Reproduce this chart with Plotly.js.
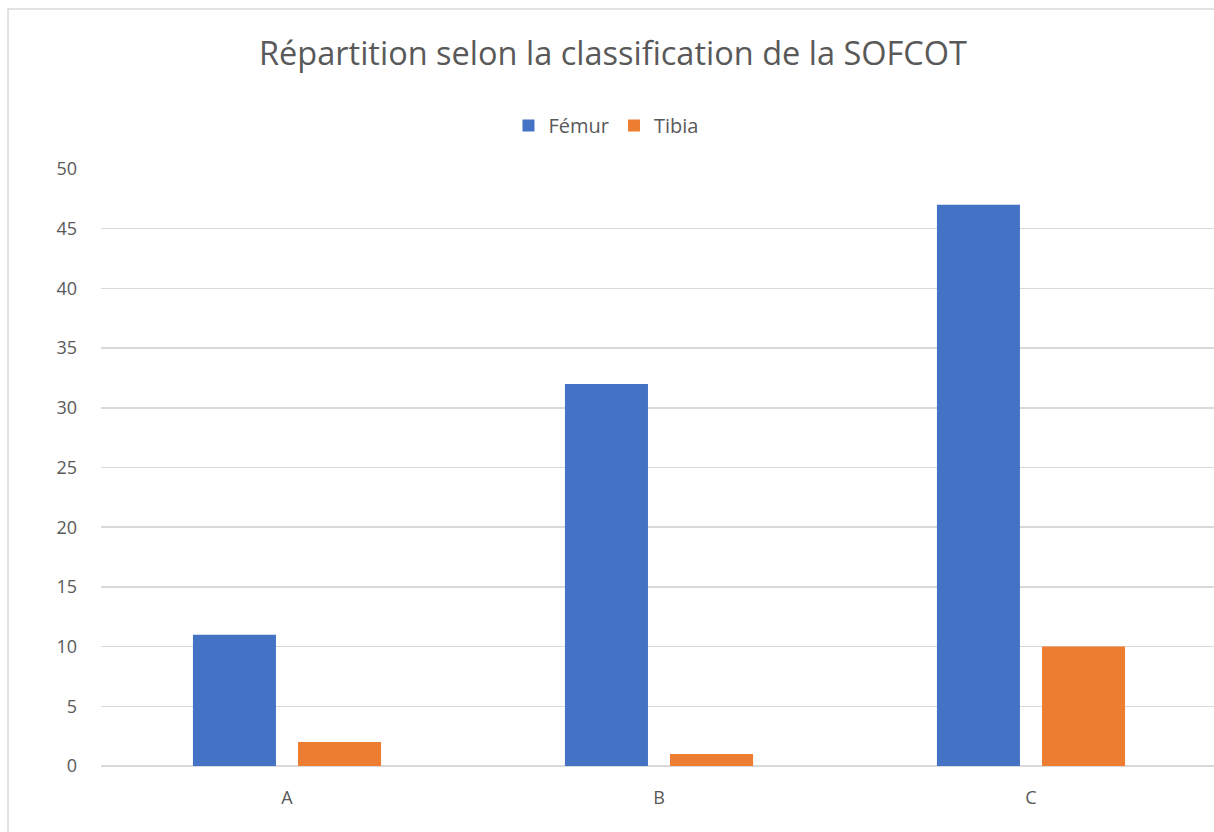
<!DOCTYPE html>
<html><head><meta charset="utf-8">
<script src="https://cdn.plot.ly/plotly-3.0.1.min.js"></script>
<style>html,body{margin:0;padding:0;overflow:hidden;background:#fff;width:1214px;height:832px}#c{width:1224px;height:840px}</style>
</head><body><div id="c"></div>
<script>
const categories = ["A", "B", "C"];
const femur = [11, 32, 47];
const tibia = [2, 1, 10];
const seriesNames = ["Fémur", "Tibia"];
const yTicks = [0, 5, 10, 15, 20, 25, 30, 35, 40, 45, 50];

const font = "'Open Sans', 'Noto Sans', sans-serif";
const data = [
  {type: "bar", name: seriesNames[0], x: categories, y: femur, marker: {color: "#4472C4"}},
  {type: "bar", name: seriesNames[1], x: categories, y: tibia, marker: {color: "#ED7D31"}}
];
const layout = {
  width: 1224, height: 840,
  margin: {l: 101, r: 7, t: 169, b: 74},
  paper_bgcolor: "#fff", plot_bgcolor: "#fff",
  barmode: "group", bargap: 0.435, bargroupgap: 0.21,
  font: {family: font, color: "#595959"},
  title: {text: "Répartition selon la classification de la SOFCOT", font: {family: font, size: 32.5, color: "#595959"}, x: 613/1224, xref: "container", xanchor: "center", y: 1 - 54/840, yref: "container", yanchor: "middle"},
  showlegend: true,
  legend: {orientation: "h", x: 0.4525, xanchor: "center", y: 1.073, yanchor: "middle", font: {family: font, size: 20, color: "#595959"}, itemwidth: 30, traceorder: "normal"},
  xaxis: {type: "category", showgrid: false, showline: false, zeroline: false, ticks: "", tickfont: {size: 18, color: "#595959"}, ticklabelstandoff: 19},
  yaxis: {range: [0, 50], tickvals: yTicks, showgrid: true, gridcolor: "#D9D9D9", gridwidth: 1.5, zeroline: true, zerolinecolor: "#D9D9D9", zerolinewidth: 2, showline: false, ticks: "", tickfont: {size: 18, color: "#595959"}, ticklabelstandoff: 23},
  shapes: [{type: "rect", xref: "paper", yref: "paper", x0: -0.0833, x1: 1.004, y0: -0.2, y1: 1.268, line: {color: "#D9D9D9", width: 1.5}, fillcolor: "rgba(0,0,0,0)"}]
};
Plotly.newPlot("c", data, layout, {displayModeBar: false, staticPlot: true});
</script></body></html>
